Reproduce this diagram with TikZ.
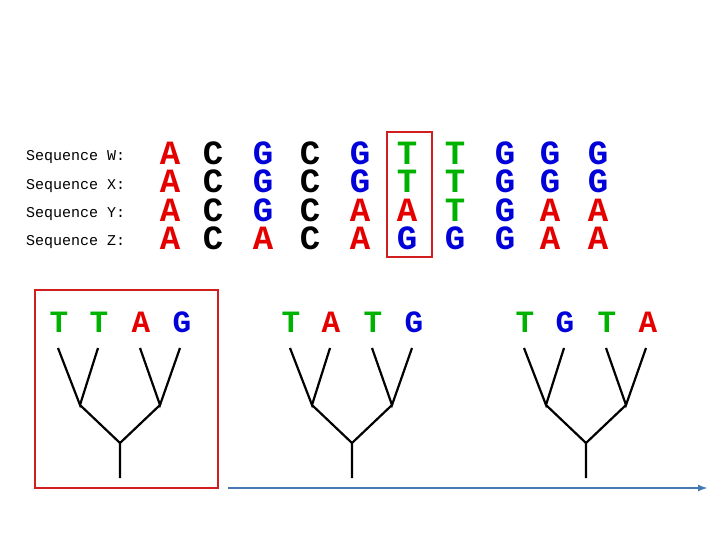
\documentclass[tikz,border=0pt]{standalone}
\usepackage{fontspec}
\usetikzlibrary{arrows.meta}
\setmonofont{Liberation Mono}
\begin{document}
\begin{tikzpicture}[x=1pt,y=-1pt,
  lbl/.style={font=\ttfamily\fontsize{15}{15}\selectfont,anchor=west,inner sep=0},
  nt/.style={font=\ttfamily\bfseries\fontsize{34}{34}\selectfont,inner sep=0},
  tl/.style={font=\ttfamily\bfseries\fontsize{31}{31}\selectfont,inner sep=0},
  br/.style={line width=2.2pt},
  redbox/.style={draw={rgb,255:red,210;green,30;blue,30},line width=2pt}]
\useasboundingbox (0,0) rectangle (720,540);
\colorlet{cA}{red!90!black}\colorlet{cG}{blue!85!black}\colorlet{cT}{green!70!black}\colorlet{cC}{black}
\foreach \n/\y in {W/157,X/186,Y/214,Z/242}
  \node[lbl] (L\n) at (26,\y) {Sequence \n:};
\def\cols{{170,213,263,310,360,407,455,505,550,598}}
\foreach \r/\y/\s in {1/153/{A,C,G,C,G,T,T,G,G,G},2/181/{A,C,G,C,G,T,T,G,G,G},3/210/{A,C,G,C,A,A,T,G,A,A},4/238/{A,C,A,C,A,G,G,G,A,A}}{
  \foreach \c [count=\i from 0] in \s {
    \pgfmathsetmacro\xx{\cols[\i]}
    \node[nt,text=c\c] (n\r-\i) at (\xx,\y) {\c};
  }
}
\node[redbox,minimum width=45pt,minimum height=125pt] (box6) at (409.5,194.5) {};
\foreach \k/\dx/\a/\b/\c/\d in {1/0/T/T/A/G,2/232/T/A/T/G,3/466/T/G/T/A}{
  \begin{scope}[xshift=\dx]
  \node[tl,text=c\a] (t\k a) at (59,322) {\a};
  \node[tl,text=c\b] (t\k b) at (99,322) {\b};
  \node[tl,text=c\c] (t\k c) at (141,322) {\c};
  \node[tl,text=c\d] (t\k d) at (182,322) {\d};
  \coordinate (l\k a) at (58,348);\coordinate (l\k b) at (98,348);
  \coordinate (l\k c) at (140,348);\coordinate (l\k d) at (180,348);
  \coordinate (j\k l) at (80,405);\coordinate (j\k r) at (160,405);
  \coordinate (j\k) at (120,443);\coordinate (r\k) at (120,478);
  \draw[br] (l\k a)--(j\k l)--(l\k b) (j\k l)--(j\k);
  \draw[br] (l\k c)--(j\k r)--(l\k d) (j\k r)--(j\k)--(r\k);
  \end{scope}
}
\node[redbox,minimum width=183pt,minimum height=198pt] (box1) at (126.5,389) {};
\coordinate (as) at (228,488);\coordinate (ae) at (708,488);
\draw[-{Latex[length=10pt,width=7pt]},line width=2pt,color={rgb,255:red,70;green,120;blue,180}] (as)--(ae);
\end{tikzpicture}
\end{document}
